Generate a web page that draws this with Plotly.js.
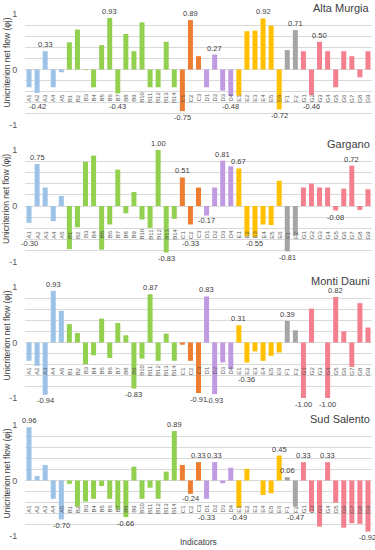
<!DOCTYPE html>
<html>
<head>
<meta charset="utf-8">
<script src="https://cdn.plot.ly/plotly-3.0.1.min.js"></script>
<style>html,body{margin:0;padding:0;background:#fff;}#chart{width:375px;height:550px;}</style>
</head>
<body>
<div id="chart"></div>
<script>
const categories = ['A1','A2','A3','A4','A5',
  'B1','B2','B3','B4','B5','B6','B7','B8','B9','B10','B11','B12','B13','B14',
  'C1','C2','C3','D1','D2','D3','D4','E1','E2','E3','E4','E5','E6','F1','F2',
  'G1','G2','G3','G4','G5','G6','G7','G8','G9'];

const regions = ['Alta Murgia','Gargano','Monti Dauni','Sud Salento'];

const altaMurgia = [-0.32,-0.42,0.33,-0.32,-0.05,
  0.49,0.72,-0.01,-0.32,0.44,0.93,-0.43,0.64,0.33,0.85,-0.32,-0.32,0.50,-0.32,
  -0.75,0.89,0.24,
  -0.32,0.27,-0.38,-0.48,
  -0.47,0.69,0.70,0.92,0.79,-0.72,
  0.35,0.71,
  0.33,-0.46,0.50,0.33,-0.32,0.33,0.24,-0.14,0.33];

const gargano = [-0.30,0.75,0.33,-0.27,0.18,
  -0.77,-0.38,0.79,0.90,-0.78,-0.33,0.65,-0.13,0.25,-0.24,-0.39,1.00,-0.83,-0.23,
  0.51,-0.33,0.33,
  -0.17,0.33,0.81,0.71,
  0.67,-0.54,-0.55,-0.33,-0.34,0.45,
  -0.81,-0.53,
  0.33,0.40,0.33,0.33,-0.08,0.31,0.72,-0.07,0.30];

const montiDauni = [-0.33,-0.42,-0.94,0.93,0.57,
  0.33,0.17,-0.39,-0.23,0.43,-0.28,0.35,0.13,-0.83,-0.29,0.87,-0.33,0.16,-0.33,
  -0.04,-0.33,-0.91,
  0.83,-0.93,-0.36,-0.48,
  0.31,-0.36,-0.16,-0.33,-0.24,-0.18,
  0.39,0.22,
  -1.00,0.61,0.00,-1.00,0.82,0.20,-0.44,0.71,0.27];

const sudSalento = [0.96,0.08,0.28,-0.33,-0.70,
  -0.06,-0.47,-0.38,-0.33,-0.10,-0.33,-0.52,-0.66,0.25,-0.33,-0.13,-0.33,0.16,0.89,
  0.28,-0.24,0.33,
  -0.33,0.33,-0.05,0.23,
  -0.49,0.21,0.00,-0.26,-0.23,0.45,
  0.06,-0.47,
  0.33,-0.56,-0.83,0.33,-0.40,-0.85,-0.77,-0.78,-0.92];

const yTickVals = [-1, 0, 1];
const yTickText = ['-1', '0', '1'];
const yTitle = 'Unicriterion net flow (φj)';
const xTitle = 'Indicators';

// styles
const groupColors = {A:'#9DC3E6', B:'#92D050', C:'#ED7D31', D:'#C09BE2', E:'#FFC000', F:'#A5A5A5', G:'#F47F8F'};
const FONT = 'Liberation Sans, Arial, sans-serif';
const TXT = '#404040';
const GRID = '#D9D9D9';

const series = [altaMurgia, gargano, montiDauni, sudSalento];
const M_T = 14, M_B = 14, H = 550;
const panelPx = [[14,125],[150,262],[287,398],[425,536]];
const plotH = H - M_T - M_B;
const domains = panelPx.map(([t,b]) => [(H - M_B - b)/plotH, (H - M_B - t)/plotH]);
const Y_RANGE = [-1, 1];

const traces = [];
const annotations = [];
const layout = {
  width: 375, height: 550,
  margin: {l: 25, r: 3, t: M_T, b: M_B},
  paper_bgcolor: '#fff', plot_bgcolor: '#fff',
  showlegend: false,
  bargap: 0.38,
  font: {family: FONT, color: TXT, size: 9}
};

series.forEach((vals, p) => {
  const n = p + 1;
  const xa = n === 1 ? 'x' : 'x' + n;
  const ya = n === 1 ? 'y' : 'y' + n;
  const ppu = (panelPx[p][1] - panelPx[p][0]) / (Y_RANGE[1] - Y_RANGE[0]); // px per unit
  traces.push({
    type: 'bar', x: categories, y: vals,
    xaxis: xa, yaxis: ya,
    marker: {color: categories.map(c => groupColors[c[0]])},
    hoverinfo: 'x+y'
  });
  layout[n === 1 ? 'xaxis' : 'xaxis' + n] = {
    domain: [0, 1], anchor: ya, type: 'category',
    categoryorder: 'array', categoryarray: categories,
    range: [-0.5, categories.length - 0.5],
    showticklabels: false, showgrid: false, zeroline: false, showline: false, ticks: ''
  };
  layout[n === 1 ? 'yaxis' : 'yaxis' + n] = {
    domain: domains[p], anchor: xa,
    range: Y_RANGE,
    tickmode: 'array', tickvals: yTickVals, ticktext: yTickText,
    ticks: 'outside', ticklen: 5, tickcolor: 'rgba(0,0,0,0)',
    tickfont: {family: FONT, size: 9, color: '#595959'},
    showgrid: true, gridcolor: GRID, gridwidth: 1,
    minor: {tickmode: 'linear', tick0: 0, dtick: 0.2, showgrid: true, gridcolor: GRID, gridwidth: 1, ticks: ''},
    zeroline: true, zerolinecolor: GRID, zerolinewidth: 1,
    showline: false, fixedrange: true
  };

  categories.forEach(c => {
    annotations.push({
      xref: xa, yref: ya, x: c, y: -0.51, text: c, textangle: -90,
      showarrow: false, font: {family: FONT, size: 6, color: '#595959'},
      xanchor: 'center', yanchor: 'middle'
    });
  });

  const groupsSeen = [...new Set(categories.map(c => c[0]))];
  groupsSeen.forEach(g => {
    const idx = categories.map((c,i) => c[0] === g ? i : -1).filter(i => i >= 0);
    const gv = idx.map(i => vals[i]);
    const mx = Math.max(...gv), mn = Math.min(...gv);
    idx.forEach(i => {
      const v = vals[i];
      if (v === mx && mx > 0) {
        annotations.push({xref: xa, yref: ya, x: categories[i], y: v, text: v.toFixed(2),
          showarrow: false, yanchor: 'bottom', xanchor: 'center',
          font: {family: FONT, size: 7.5, color: TXT}});
      }
      if (v === mn && mn < 0) {
        const target = v >= -0.27 ? Math.min(v - 0.09, -0.21) : Math.min(v - 0.11, -0.67);
        annotations.push({xref: xa, yref: ya, x: categories[i], y: v, yshift: (target - v) * ppu,
          text: v.toFixed(2),
          showarrow: false, yanchor: 'middle', xanchor: 'center',
          font: {family: FONT, size: 7.5, color: TXT}});
      }
    });
  });

  annotations.push({xref: 'paper', yref: 'paper', x: 1, y: domains[p][1], xanchor: 'right', yanchor: 'middle',
    yshift: 6, text: regions[p], showarrow: false, font: {family: FONT, size: 11, color: TXT}});
  annotations.push({xref: 'paper', yref: 'paper', x: 0, xshift: -19, y: (domains[p][0] + domains[p][1]) / 2,
    yshift: 7, textangle: -90, xanchor: 'center', yanchor: 'middle',
    text: yTitle, showarrow: false, font: {family: FONT, size: 8.5, color: TXT}});
});

annotations.push({xref: 'paper', yref: 'paper', x: 0.5, y: 0, yanchor: 'middle', yshift: -6,
  text: xTitle, showarrow: false, font: {family: FONT, size: 8.5, color: TXT}});

layout.annotations = annotations;
Plotly.newPlot('chart', traces, layout, {displayModeBar: false, staticPlot: true});
</script>
</body>
</html>
